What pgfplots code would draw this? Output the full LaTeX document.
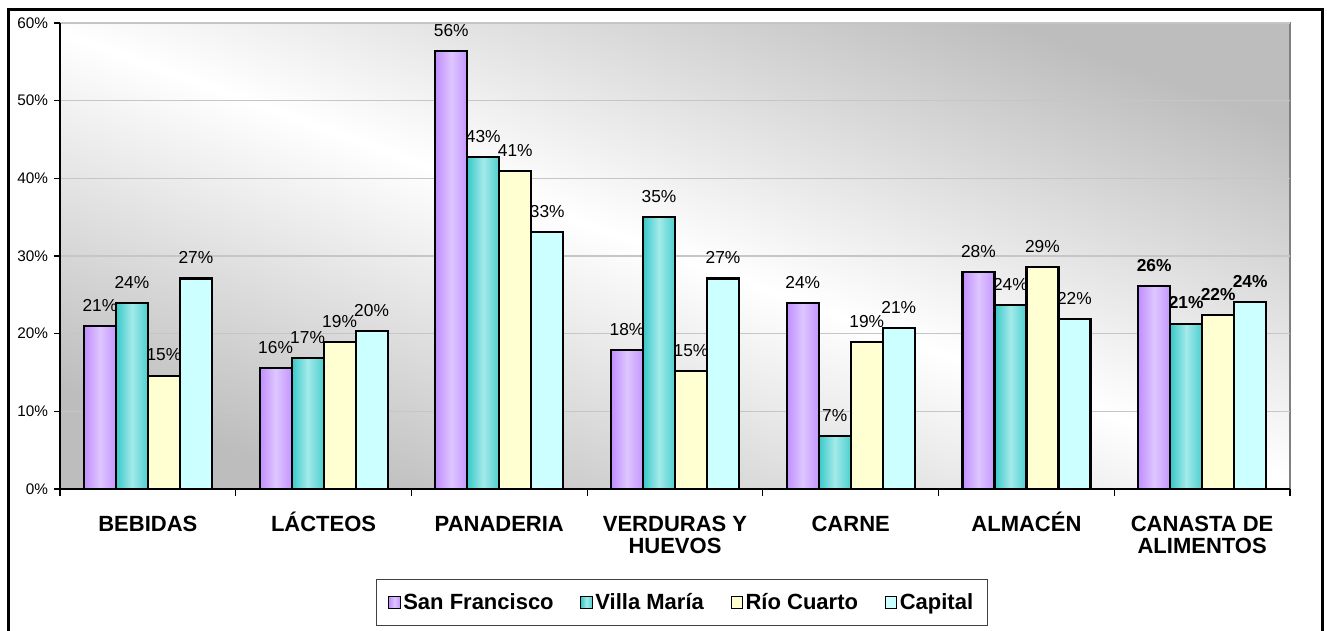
\documentclass[border=0pt]{standalone}
\usepackage{fontspec}
\setmainfont{Liberation Sans}
\usepackage{pgfplots}
\pgfplotsset{compat=1.18}
\definecolor{sfA}{HTML}{C08EFF}
\definecolor{sfB}{HTML}{DEC6FF}
\definecolor{vmA}{HTML}{38C8C8}
\definecolor{vmB}{HTML}{A4EAEA}
\definecolor{rcC}{HTML}{FFFFD2}
\definecolor{caC}{HTML}{CCFFFF}
\definecolor{bgG}{HTML}{BDBDBD}
\newcommand{\lbl}[1]{\begin{tabular}[t]{@{}c@{}}#1\end{tabular}}
\pgfplotsset{
  sq/.style={legend image code/.code={\draw[##1, line width=0.8pt] (0pt,-4.2pt) rectangle (8.5pt,4.3pt);}},
  sfS/.style={draw=black, line width=1.6pt, left color=sfA, right color=sfA!85!sfB, middle color=sfB},
  vmS/.style={draw=black, line width=1.6pt, left color=vmA, right color=vmA!80!vmB, middle color=vmB},
  rcS/.style={draw=black, line width=1.6pt, fill=rcC},
  caS/.style={draw=black, line width=1.6pt, fill=caC},
}
\newcommand{\B}[5]{\addplot[#1, bar shift=#2, forget plot] coordinates {(#3,#4) [#5]};}
\begin{document}
\begin{tikzpicture}[x=0.75pt,y=0.75pt]
\useasboundingbox (0,0) rectangle (1327,631);
\fill[white] (0,0) rectangle (1327,631);
\draw[line width=2.25pt] (8,621) rectangle (1322,-30);
\begin{axis}[
  at={(45pt,106.5pt)}, anchor=south west,
  scale only axis, width=922.5pt, height=349.5pt,
  ymin=0, ymax=60, xmin=-0.5, xmax=6.5,
  ybar=0pt, bar width=24pt,
  axis lines*=left,
  axis line style={black, line width=1pt},
  axis background/.style={draw=gray, line width=1pt, top color=bgG, bottom color=bgG, middle color=white, shading angle=-20},
  ytick={0,10,20,30,40,50,60},
  yticklabels={0\%,10\%,20\%,30\%,40\%,50\%,60\%},
  yticklabel style={font=\fontsize{11.5}{13}\selectfont, xshift=-1pt},
  ymajorgrids, grid style={draw=gray!45, line width=0.8pt},
  xtick={0,...,6},
  xticklabels={\lbl{BEBIDAS},\lbl{LÁCTEOS},\lbl{PANADERIA},\lbl{VERDURAS Y\\HUEVOS},\lbl{CARNE},\lbl{ALMACÉN},\lbl{CANASTA DE\\ALIMENTOS}},
  xticklabel style={font=\bfseries\fontsize{16.5}{16.5}\selectfont, anchor=base, yshift=-27.5pt},
  major x tick style={draw=none},
  minor xtick={-0.5,0.5,...,6.5},
  tick align=outside,
  tick style={black, line width=0.8pt},
  major tick length=4.5pt, minor tick length=5.25pt,
  point meta=explicit symbolic,
  nodes near coords={\pgfplotspointmeta},
  every node near coord/.append style={anchor=base, yshift=11pt, inner sep=0pt, font=\fontsize{13}{15}\selectfont, black},
  legend style={at={(0.5057,-0.2436)}, anchor=center, legend columns=-1, draw=black!75, line width=0.8pt,
    font=\bfseries\fontsize{16.5}{18}\selectfont, inner xsep=9pt, inner ysep=8.5pt,
    /tikz/every even column/.append style={column sep=18pt}},
  sq,
]
% San Francisco
\B{sfS}{-36pt}{0}{21.0}{21\%}
\B{sfS}{-36pt}{1}{15.6}{16\%}
\B{sfS}{-36pt}{2}{56.4}{56\%}
\B{sfS}{-36pt}{3}{17.9}{18\%}
\B{sfS}{-36pt}{4}{23.9}{24\%}
\B{sfS}{-36pt}{5}{27.9}{28\%}
\B{sfS}{-36pt}{6}{26.1}{\textbf{26\%}}
% Villa Maria
\B{vmS}{-12pt}{0}{23.9}{24\%}
\B{vmS}{-12pt}{1}{16.9}{17\%}
\B{vmS}{-12pt}{2}{42.7}{43\%}
\B{vmS}{-12pt}{3}{35.0}{35\%}
\B{vmS}{-12pt}{4}{6.8}{7\%}
\B{vmS}{-12pt}{5}{23.7}{24\%}
\B{vmS}{-12pt}{6}{21.3}{\textbf{21\%}}
% Rio Cuarto
\B{rcS}{12pt}{0}{14.6}{15\%}
\B{rcS}{12pt}{1}{18.9}{19\%}
\B{rcS}{12pt}{2}{40.9}{41\%}
\B{rcS}{12pt}{3}{15.2}{15\%}
\B{rcS}{12pt}{4}{18.9}{19\%}
\B{rcS}{12pt}{5}{28.6}{29\%}
\B{rcS}{12pt}{6}{22.4}{\textbf{22\%}}
% Capital
\B{caS}{36pt}{0}{27.1}{27\%}
\B{caS}{36pt}{1}{20.3}{20\%}
\B{caS}{36pt}{2}{33.1}{33\%}
\B{caS}{36pt}{3}{27.1}{27\%}
\B{caS}{36pt}{4}{20.7}{21\%}
\B{caS}{36pt}{5}{21.9}{22\%}
\B{caS}{36pt}{6}{24.1}{\textbf{24\%}}
\addlegendimage{sfS, line width=0.8pt}\addlegendentry{San Francisco}
\addlegendimage{vmS, line width=0.8pt}\addlegendentry{Villa María}
\addlegendimage{rcS, line width=0.8pt}\addlegendentry{Río Cuarto}
\addlegendimage{caS, line width=0.8pt}\addlegendentry{Capital}
\end{axis}
\end{tikzpicture}
\end{document}
